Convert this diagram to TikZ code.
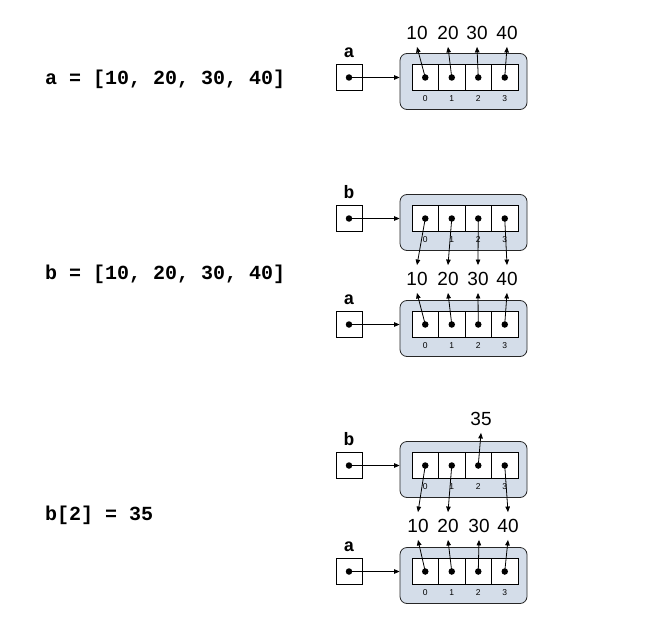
\documentclass[tikz,border=0pt]{standalone}
\usepackage{fontspec}
\setmainfont{Liberation Sans}
\setmonofont{Liberation Mono}
\usetikzlibrary{arrows.meta}
\definecolor{listfill}{RGB}{212,221,233}
\tikzstyle{code} = [font=\ttfamily\bfseries\fontsize{20}{24}\selectfont,
    anchor=base west, inner sep=0pt]
\tikzstyle{varname} = [font=\ttfamily\bfseries\fontsize{18}{22}\selectfont,
    anchor=base, inner sep=0pt]
\tikzstyle{varbox} = [draw=black, fill=white, line width=0.8pt,
    minimum size=26pt, inner sep=0pt]
\tikzstyle{listbox} = [draw=black!85, fill=listfill, line width=0.8pt,
    rounded corners=7pt, minimum width=127pt, minimum height=56pt]
\tikzstyle{cell} = [draw=black, fill=white, line width=0.8pt,
    minimum width=26.5pt, minimum height=26pt, inner sep=0pt]
\tikzstyle{dot} = [circle, fill=black, inner sep=0pt, minimum size=6.5pt]
\tikzstyle{index} = [font=\fontsize{8.5}{10}\selectfont, inner sep=0pt]
\tikzstyle{value} = [font=\fontsize{19}{22}\selectfont, inner xsep=1pt, inner ysep=7pt]
\tikzstyle{ref} = [-{Triangle[length=5.5pt,width=4.5pt]}, line width=0.8pt]

% one variable and the list it points to
\newcommand{\pylist}[3]{%
    \node[varbox] (#1) at (349,#3) {};
    \node[dot] (#1-p) at (#1) {};
    \node[varname] (#1-name) at (349,#3-20) {#2};
    \node[listbox] (#1-list) at (463.5,#3+4) {};
    \foreach \i in {0,...,3} {
        \node[cell] (#1-c\i) at (425.25+26.5*\i,#3) {};
        \node[dot] (#1-d\i) at (#1-c\i) {};
        \node[index] (#1-i\i) at (425.25+26.5*\i,#3+21.5) {\i};
    }
    \draw[ref] (#1-p.center) -- (#1-p -| #1-list.west);
}

\begin{document}
\begin{tikzpicture}[x=1pt,y=-1pt]
    \useasboundingbox (0,0) rectangle (663,631);

    % a = [10, 20, 30, 40]
    \node[code] (code1) at (45,85) {a = [10, 20, 30, 40]};
    \pylist{a1}{a}{77.5}
    \node[value] (v1-0) at (417,33) {10};
    \node[value] (v1-1) at (448,33) {20};
    \node[value] (v1-2) at (477,33) {30};
    \node[value] (v1-3) at (507,33) {40};
    \foreach \i in {0,...,3} {
        \draw[ref] (a1-d\i.center) -- (v1-\i.south);
    }

    % b = [10, 20, 30, 40]
    \node[code] (code2) at (45,279) {b = [10, 20, 30, 40]};
    \pylist{b2}{b}{218.5}
    \pylist{a2}{a}{324.5}
    \node[value] (v2-0) at (417,279) {10};
    \node[value] (v2-1) at (448,279) {20};
    \node[value] (v2-2) at (478,279) {30};
    \node[value] (v2-3) at (507,279) {40};
    \foreach \i in {0,...,3} {
        \draw[ref] (b2-d\i.center) -- (v2-\i.north);
        \draw[ref] (a2-d\i.center) -- (v2-\i.south);
    }

    % b[2] = 35
    \node[code] (code3) at (45,520) {b[2] = 35};
    \pylist{b3}{b}{465.5}
    \pylist{a3}{a}{571.5}
    \node[value] (v3-new) at (481,419) {35};
    \node[value] (v3-0) at (418,526) {10};
    \node[value] (v3-1) at (448,526) {20};
    \node[value] (v3-2) at (479,526) {30};
    \node[value] (v3-3) at (508,526) {40};
    \draw[ref] (b3-d0.center) -- (v3-0.north);
    \draw[ref] (b3-d1.center) -- (v3-1.north);
    \draw[ref] (b3-d2.center) -- (v3-new.south);
    \draw[ref] (b3-d3.center) -- (v3-3.north);
    \foreach \i in {0,...,3} {
        \draw[ref] (a3-d\i.center) -- (v3-\i.south);
    }
\end{tikzpicture}
\end{document}
